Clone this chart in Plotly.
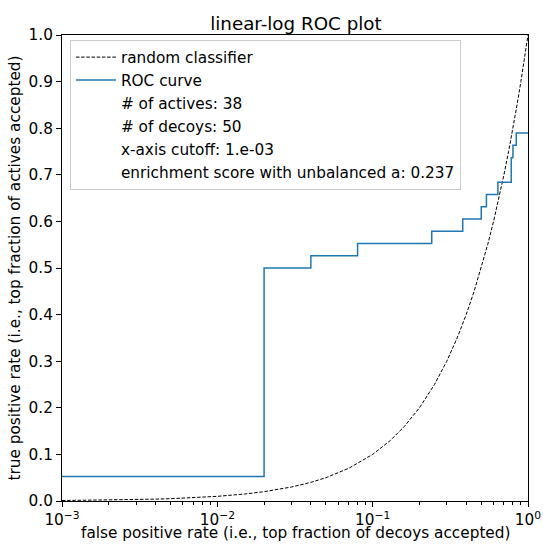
import plotly.graph_objects as go

# ROC curve data (step function)
fpr = [0.001, 0.02, 0.02, 0.04, 0.04, 0.08, 0.08, 0.24, 0.24, 0.38, 0.38, 0.50, 0.50,
       0.54, 0.54, 0.64, 0.64, 0.78, 0.78, 0.80, 0.80, 0.84, 0.84, 1.0]
tpr = [2/38, 2/38, 19/38, 19/38, 20/38, 20/38, 21/38, 21/38, 22/38, 22/38, 23/38, 23/38, 24/38,
       24/38, 25/38, 25/38, 26/38, 26/38, 28/38, 28/38, 29/38, 29/38, 30/38, 30/38]

# random classifier diagonal points (y = x)
diag = [0.001, 0.0015, 0.002, 0.003, 0.004, 0.005, 0.007, 0.01, 0.015, 0.02, 0.03, 0.04,
        0.05, 0.07, 0.1, 0.13, 0.16, 0.2, 0.25, 0.3, 0.35, 0.4, 0.45, 0.5, 0.55, 0.6,
        0.65, 0.7, 0.75, 0.8, 0.85, 0.9, 0.95, 1.0]

info_lines = ["# of actives: 38", "# of decoys: 50", "x-axis cutoff: 1.e-03",
              "enrichment score with unbalanced a: 0.237"]

x_tickvals = [0.001, 0.01, 0.1, 1]
x_ticktext = ["10<sup>\u22123</sup>", "10<sup>\u22122</sup>", "10<sup>\u22121</sup>", "10<sup>0</sup>"]
y_tickvals = [0.0, 0.1, 0.2, 0.3, 0.4, 0.5, 0.6, 0.7, 0.8, 0.9, 1.0]
x_title = "false positive rate (i.e., top fraction of decoys accepted)"
y_title = "true positive rate (i.e., top fraction of actives accepted)"

minor_vals = [m * 10 ** e for e in (-3, -2, -1) for m in range(2, 10)]

FS = 15.3

fig = go.Figure()
fig.add_trace(go.Scatter(x=diag, y=diag, mode="lines", name="random classifier",
                         line=dict(color="black", width=1, dash="3.5px,1.7px")))
fig.add_trace(go.Scatter(x=fpr, y=tpr, mode="lines", name="ROC curve",
                         line=dict(color="#1f77b4", width=1.5)))
for t in info_lines:
    fig.add_trace(go.Scatter(x=[None], y=[None], mode="lines", name=t,
                             line=dict(color="rgba(0,0,0,0)", width=0)))

fig.add_annotation(text=x_title, xref="paper", yref="paper", x=0.5, y=-0.069,
                   xanchor="center", yanchor="middle", showarrow=False,
                   font=dict(size=FS))

fig.update_layout(
    width=543, height=544,
    margin=dict(l=62, r=15, t=35, b=43, autoexpand=False),
    paper_bgcolor="white", plot_bgcolor="white",
    font=dict(family="DejaVu Sans", size=FS, color="black"),
    title=dict(text="linear-log ROC plot", x=0.545, xanchor="center", y=0.957, yanchor="middle",
               font=dict(size=18.3)),
    showlegend=True,
    legend=dict(x=0.017, y=0.99, xanchor="left", yanchor="top",
                bgcolor="rgba(255,255,255,0.8)", bordercolor="#cccccc", borderwidth=1,
                font=dict(size=FS), traceorder="normal",
                itemwidth=40),
    xaxis=dict(type="log", range=[-3, 0], tickvals=x_tickvals, ticktext=x_ticktext,
               ticks="outside", ticklen=5, tickcolor="black", showline=True, linecolor="black",
               linewidth=1, mirror=True, showgrid=False, zeroline=False, automargin=False,
               tickfont=dict(size=FS),
               minor=dict(tickvals=minor_vals, ticks="outside", ticklen=3, tickcolor="black",
                          showgrid=False)),
    yaxis=dict(range=[0, 1], tickvals=y_tickvals, tickformat=".1f",
               ticks="outside", ticklen=5, tickcolor="black", showline=True, linecolor="black",
               linewidth=1, mirror=True, showgrid=False, zeroline=False, automargin=False,
               tickfont=dict(size=FS),
               title=dict(text=y_title, font=dict(size=FS), standoff=4)),
)

fig.write_html("out.html", config={"displayModeBar": False},
               post_script="document.body.style.margin='0px';document.body.style.padding='0px';")
